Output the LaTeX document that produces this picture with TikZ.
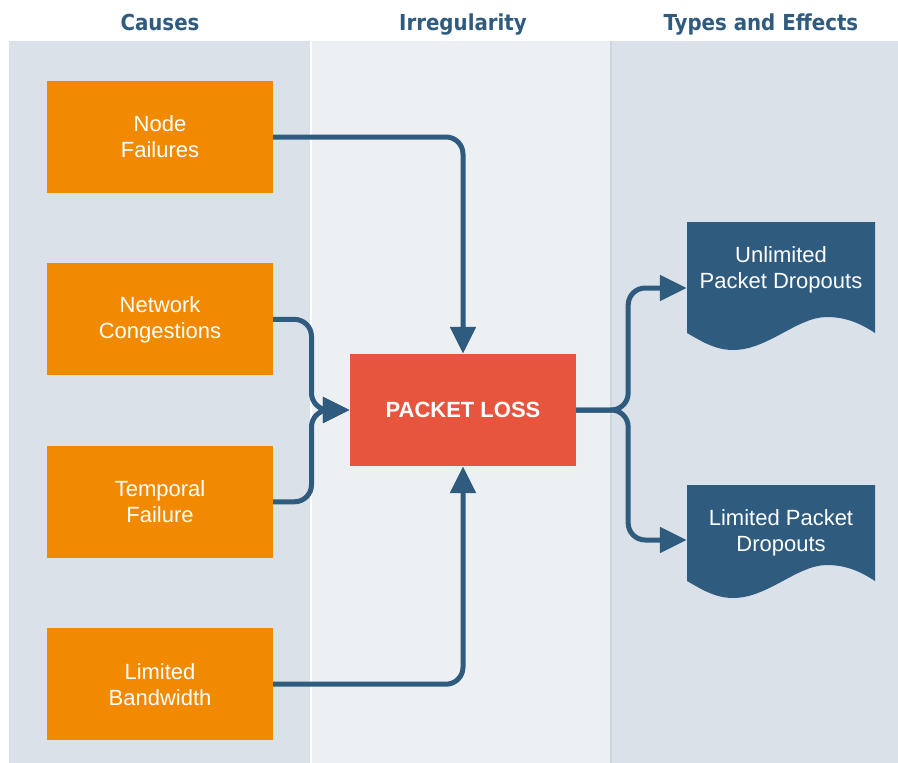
\documentclass[tikz,border=0pt]{standalone}
\usepackage{fontspec}
\setmainfont{Liberation Sans}
\newfontfamily\headfont{DejaVu Sans Condensed}
\usetikzlibrary{positioning, arrows.meta, calc, backgrounds}
\definecolor{navy}{HTML}{2F5B7E}
\definecolor{paneldark}{HTML}{DAE1E8}
\definecolor{panellight}{HTML}{ECF0F3}
\definecolor{causeorange}{HTML}{F18A00}
\definecolor{lossred}{HTML}{E8553F}
\tikzstyle{header} = [anchor=base, font=\headfont\bfseries\fontsize{22}{26}\selectfont, text=navy]
\tikzstyle{cause}  = [rectangle, minimum width=226pt, minimum height=112pt, align=center, fill=causeorange, text=white, font=\fontsize{22}{26}\selectfont]
\tikzstyle{loss}   = [rectangle, minimum width=226pt, minimum height=112pt, align=center, fill=lossred, text=white, font=\bfseries\fontsize{22}{26}\selectfont]
\tikzstyle{effect} = [rectangle, minimum width=188pt, align=center, text=white, font=\fontsize{22}{26}\selectfont]
\tikzstyle{flow}   = [draw=navy, line width=5pt, rounded corners=17pt, -{Triangle[length=27pt,width=25pt]}]

\begin{document}
\begin{tikzpicture}[x=1pt, y=-1pt]
            \useasboundingbox (0,0) rectangle (898,763);
            % column panels
            \begin{scope}[on background layer]
                \fill[white] (0,0) rectangle (898,763);
                \fill[paneldark]  (9,41)   rectangle (311,763);
                \fill[panellight] (311,41) rectangle (611,763);
                \fill[paneldark]  (611,41) rectangle (898,763);
                \draw[white, line width=1.5pt] (311,41) -- (311,763);
                \draw[paneldark!92!navy, line width=1.5pt] (611,41) -- (611,763);
            \end{scope}

            \node[header] (causes) at (160,30) {Causes};
            \node[header] (irreg)  at (463,30) {Irregularity};
            \node[header] (types)  at (761,30) {Types and Effects};

            \node[cause]  (nodefail)  at (160,137)          {Node\\Failures};
            \node[cause]  (netcong)   [below=70pt of nodefail] {Network\\Congestions};
            \node[cause]  (tempfail)  [below=70pt of netcong ] {Temporal\\Failure};
            \node[cause]  (bandwidth) [below=70pt of tempfail] {Limited\\Bandwidth};
            \node[loss]   (loss)      at (463,410)          {PACKET LOSS};
            \node[effect] (unlim)     at (781,270)          {Unlimited\\Packet Dropouts};
            \node[effect] (lim)       at (781,533)          {Limited Packet\\Dropouts};

            % document shapes behind the effect texts
            \begin{scope}[on background layer]
                \foreach \d/\ytop/\ybot in {unlim/-48/63, lim/-48/48}
                    \fill[navy] ($(\d.center)+(-94,\ytop)$) -- ++(188,0) -- ($(\d.center)+(94,\ybot)$)
                        .. controls +(-15,-10) and +(18,0) .. ++(-48,-16)
                        .. controls +(-30,0) and +(35,0) .. ++(-94,33)
                        .. controls +(-18,0) and +(14,8) .. ++(-46,-17) -- cycle;
            \end{scope}

            \coordinate (join)     at ($(netcong.east |- loss.west)!0.5!(loss.west)$);
            \coordinate (split)    at ($(loss.east)!0.47!(unlim.west |- loss.east)$);
            \coordinate (unlim-in) at ($(unlim.west)+(0,18)$);
            \coordinate (lim-in)   at ($(lim.west)+(0,7)$);

            \draw[flow] (nodefail.east) -| (loss.north);
            \draw[flow] (netcong.east) -| (join) -- (loss.west);
            \draw[flow] (tempfail.east) -| (join) -- (loss.west);
            \draw[flow] (bandwidth.east) -| (loss.south);
            \draw[flow] (loss.east) -- (split) |- (unlim-in);
            \draw[flow] (loss.east) -- (split) |- (lim-in);
        \end{tikzpicture}
\end{document}
